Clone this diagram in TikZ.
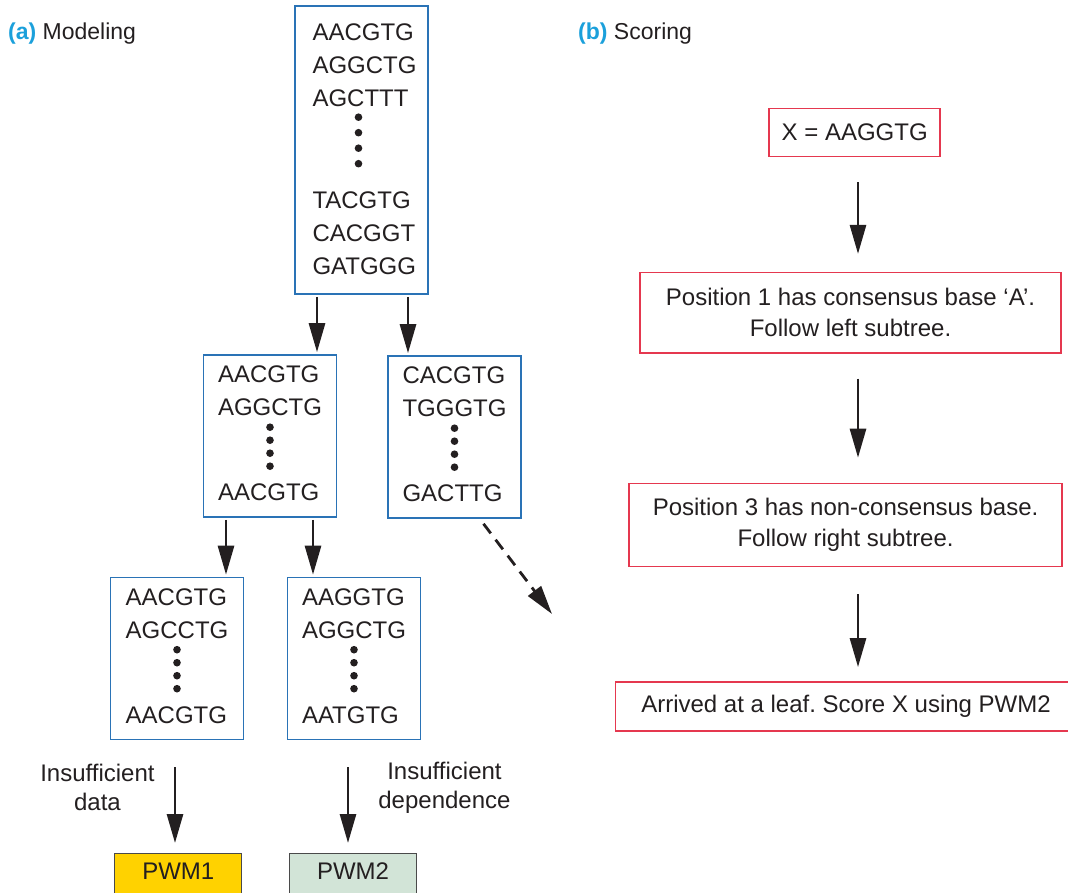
\documentclass[tikz,border=0pt]{standalone}
\usepackage{fontspec}
\setmainfont{Liberation Sans}
\usetikzlibrary{arrows.meta,positioning,calc}
\definecolor{ink}{HTML}{231F20}
\definecolor{seqblue}{HTML}{2A73B6}
\definecolor{stepred}{HTML}{E5384F}
\definecolor{tagcyan}{HTML}{1BA0DB}
\definecolor{pwmgold}{HTML}{FFD200}
\definecolor{pwmgreen}{HTML}{D2E4D7}
\definecolor{pwmline}{HTML}{4A4A4A}
\frenchspacing
\newcommand{\seqfont}{\fontsize{24}{33}\selectfont}
\newcommand{\stepfont}{\fontsize{24}{31}\selectfont}
\newcommand{\notefont}{\fontsize{24}{29}\selectfont}
\tikzset{seqbox/.style={draw=seqblue,line width=1.6pt,minimum width=133pt,
  minimum height=162pt,inner sep=0pt},
  seqtxt/.style={align=left,inner sep=0pt,font=\seqfont,text=ink},
  stepbox/.style={draw=stepred,line width=1.6pt,align=center,font=\stepfont,text=ink},
  pwm/.style={draw=pwmline,line width=1.2pt,minimum width=127pt,anchor=north,
  inner ysep=9.5pt,text depth=14pt,font=\seqfont,text=ink},
  note/.style={align=center,inner sep=0pt,font=\notefont,text=ink},
  head/.style={anchor=base west,inner sep=0pt,font=\fontsize{23}{28}\selectfont,text=ink},
  arrow/.style={-{Triangle[length=29pt,width=16pt]},line width=2.8pt,draw=ink}}

\begin{document}
\begin{tikzpicture}[x=1pt,y=-1pt]
\useasboundingbox (0,0) rectangle (1068,893);

% (a) modeling tree
\node[head] (headA) at (8,40) {\textcolor{tagcyan}{\bfseries(a)} Modeling};

\node[seqbox,minimum height=288pt] (top) at (361.5,150) {};
\node[seqtxt,anchor=north] (topseq) at ([xshift=3pt,yshift=-18.5pt]top.north)
  {AACGTG\\AGGCTG\\AGCTTT\\[69pt]TACGTG\\CACGGT\\GATGGG};
\foreach \k in {0,...,3}
  \fill[ink] ([xshift=-3pt,yshift={-112-15.5*\k}]top.north) circle (3.8pt);

\node[seqbox] (midL) at (270,436) {};
\node[seqtxt,anchor=north] (midLseq) at ([yshift=-11.5pt]midL.north)
  {AACGTG\\AGGCTG\\[52pt]AACGTG};
\node[seqbox] (midR) at (454.5,437) {};
\node[seqtxt,anchor=north] (midRseq) at ([yshift=-11.5pt]midR.north)
  {CACGTG\\TGGGTG\\[52pt]GACTTG};
\node[seqbox] (botL) at (177,658.5) {};
\node[seqtxt,anchor=north] (botLseq) at ([yshift=-11.5pt]botL.north)
  {AACGTG\\AGCCTG\\[52pt]AACGTG};
\node[seqbox] (botM) at (354,658.5) {};
\node[seqtxt,anchor=north] (botMseq) at ([yshift=-11.5pt]botM.north)
  {AAGGTG\\AGGCTG\\[52pt]AATGTG};
\foreach \b in {midL,midR,botL,botM}
  \foreach \k in {0,...,3}
    \fill[ink] ([yshift={-73-13*\k}]\b.north) circle (3.8pt);

\node[pwm,fill=pwmgold] (pwm1) at (178.3,853) {PWM1};
\node[pwm,fill=pwmgreen] (pwm2) at (353,853) {PWM2};

\draw[arrow,shorten <=2pt,shorten >=2pt] ([xshift=-44.5pt]top.south) -- ([xshift=-44.5pt]top.south |- midL.north);
\draw[arrow,shorten <=2pt,shorten >=2pt] ([xshift=46.5pt]top.south) -- ([xshift=46.5pt]top.south |- midR.north);
\draw[arrow,shorten <=2pt,shorten >=2pt] ([xshift=-44pt]midL.south) -- ([xshift=-44pt]midL.south |- botL.north);
\draw[arrow,shorten <=2pt,shorten >=2pt] ([xshift=43pt]midL.south) -- ([xshift=43pt]midL.south |- botM.north);
\coordinate (offtree) at (552,614);
\draw[arrow,dash pattern=on 12pt off 8pt] ([xshift=29pt,yshift=-5pt]midR.south) -- (offtree);

\draw[arrow,shorten <=27pt,shorten >=10pt] ([xshift=-2pt]botL.south) -- ([xshift=-2pt]botL.south |- pwm1.north)
  node[note,pos=0.42,left=19pt] (whyL) {Insufficient\\data};
\draw[arrow,shorten <=27pt,shorten >=10pt] ([xshift=-6pt]botM.south) -- ([xshift=-6pt]botM.south |- pwm2.north)
  node[note,pos=0.42,right=29pt] (whyM) {Insufficient\\dependence};

% (b) scoring
\node[head] (headB) at (578,40) {\textcolor{tagcyan}{\bfseries(b)} Scoring};

\node[stepbox,minimum width=171pt,minimum height=48pt] (xseq) at (854.7,132.5) {X = AAGGTG};
\node[stepbox,minimum width=421pt,minimum height=80pt] (pos1) at (850.5,312.7)
  {Position 1 has consensus base `A'.\\Follow left subtree.};
\node[stepbox,minimum width=433pt,minimum height=83pt] (pos3) at (845.6,525)
  {Position 3 has non-consensus base.\\Follow right subtree.};
\node[stepbox,minimum width=461pt,minimum height=49pt] (leaf) at (846,706.4)
  {Arrived at a leaf. Score X using PWM2};

\draw[arrow,shorten <=25pt,shorten >=18pt] ([xshift=3.3pt]xseq.south) -- ([xshift=3.3pt]xseq.south |- pos1.north);
\draw[arrow,shorten <=25pt,shorten >=25pt] ([xshift=7.5pt]pos1.south) -- ([xshift=7.5pt]pos1.south |- pos3.north);
\draw[arrow,shorten <=27pt,shorten >=14pt] ([xshift=12.4pt]pos3.south) -- ([xshift=12.4pt]pos3.south |- leaf.north);
\end{tikzpicture}
\end{document}
